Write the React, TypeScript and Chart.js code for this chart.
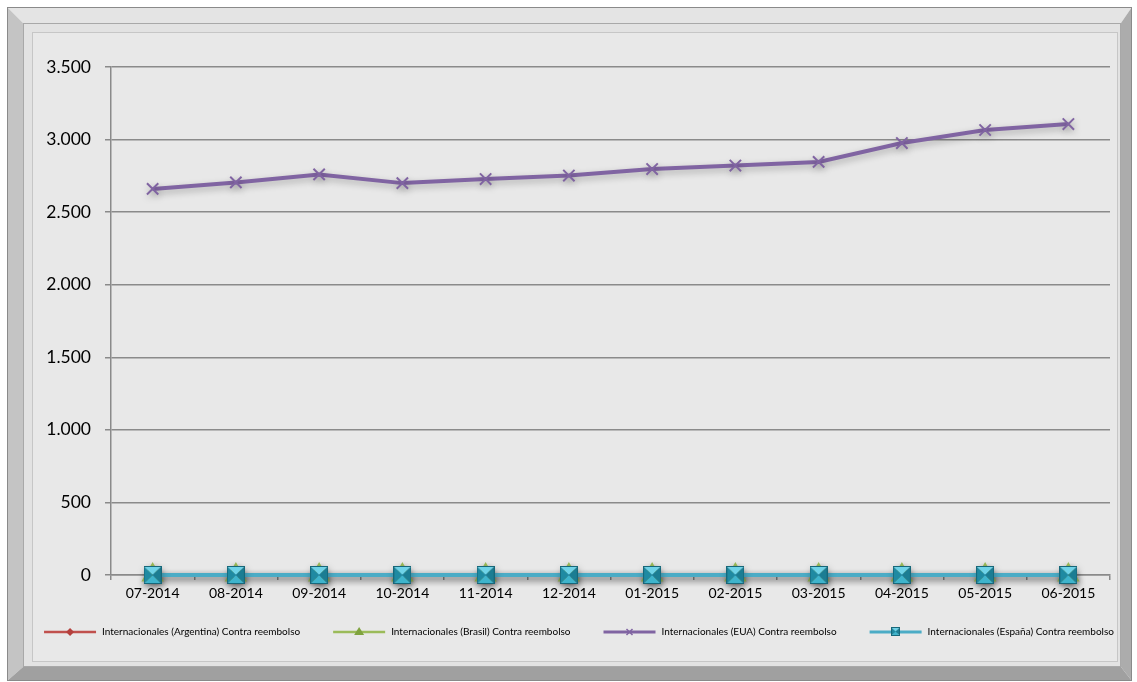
import React, { useEffect, useRef } from "react";
import { Chart, registerables } from "chart.js";

Chart.register(...registerables);

const months = [
  "07-2014", "08-2014", "09-2014", "10-2014", "11-2014", "12-2014",
  "01-2015", "02-2015", "03-2015", "04-2015", "05-2015", "06-2015",
];
const argentina = [0, 0, 0, 0, 0, 0, 0, 0, 0, 0, 0, 0];
const brasil = [0, 0, 0, 0, 0, 0, 0, 0, 0, 0, 0, 0];
const eua = [2660, 2705, 2760, 2700, 2728, 2752, 2797, 2821, 2846, 2976, 3066, 3107];
const espana = [0, 0, 0, 0, 0, 0, 0, 0, 0, 0, 0, 0];
const seriesNames = [
  "Internacionales (Argentina) Contra reembolso",
  "Internacionales (Brasil) Contra reembolso",
  "Internacionales (EUA) Contra reembolso",
  "Internacionales (España) Contra reembolso",
];
const yTicks = [0, 500, 1000, 1500, 2000, 2500, 3000, 3500];

const W = 1137;
const H = 682;

function fmt(v: number) {
  return String(v).replace(/\B(?=(\d{3})+(?!\d))/g, ".");
}

function makePyramid(size: number) {
  const c = document.createElement("canvas");
  c.width = size;
  c.height = size;
  const g = c.getContext("2d")!;
  const m = size / 2;
  const tri = (pts: number[][], col: string) => {
    g.beginPath();
    g.moveTo(pts[0][0], pts[0][1]);
    g.lineTo(pts[1][0], pts[1][1]);
    g.lineTo(pts[2][0], pts[2][1]);
    g.closePath();
    g.fillStyle = col;
    g.fill();
  };
  tri([[0, 0], [size, 0], [m, m]], "#6fd3e8");
  tri([[0, size], [size, size], [m, m]], "#3fb4cc");
  tri([[0, 0], [0, size], [m, m]], "#1f8aa2");
  tri([[size, 0], [size, size], [m, m]], "#1b7d93");
  g.strokeStyle = "#17687a";
  g.lineWidth = 1;
  g.strokeRect(0.5, 0.5, size - 1, size - 1);
  return c;
}

export default function App() {
  const ref = useRef<HTMLCanvasElement>(null);

  useEffect(() => {
    const canvas = ref.current!;
    const pyr = makePyramid(18);
    const pyrSmall = makePyramid(9);

    const framePlugin = {
      id: "frame",
      beforeDraw(chart: any) {
        const ctx = chart.ctx;
        ctx.save();
        ctx.fillStyle = "#ffffff";
        ctx.fillRect(0, 0, W, H);
        const ox0 = 7, oy0 = 7, ox1 = 1132, oy1 = 681;
        const ix0 = 23, iy0 = 23, ix1 = 1121, iy1 = 667;
        const quad = (p: number[][], col: string) => {
          ctx.beginPath();
          ctx.moveTo(p[0][0], p[0][1]);
          for (let i = 1; i < p.length; i++) ctx.lineTo(p[i][0], p[i][1]);
          ctx.closePath();
          ctx.fillStyle = col;
          ctx.fill();
        };
        quad([[ox0, oy0], [ox1, oy0], [ix1, iy0], [ix0, iy0]], "#e4e4e4");
        quad([[ox0, oy0], [ix0, iy0], [ix0, iy1], [ox0, oy1]], "#c4c4c4");
        quad([[ox1, oy0], [ox1, oy1], [ix1, iy1], [ix1, iy0]], "#acacac");
        quad([[ox0, oy1], [ix0, iy1], [ix1, iy1], [ox1, oy1]], "#a0a0a0");
        ctx.strokeStyle = "#8a8a8a";
        ctx.lineWidth = 1;
        ctx.strokeRect(ox0 + 0.5, oy0 + 0.5, ox1 - ox0 - 1, oy1 - oy0 - 1);
        ctx.fillStyle = "#e2e2e2";
        ctx.fillRect(ix0, iy0, ix1 - ix0, iy1 - iy0);
        ctx.strokeStyle = "#a8a8a8";
        ctx.strokeRect(ix0 + 0.5, iy0 + 0.5, ix1 - ix0 - 1, iy1 - iy0 - 1);
        ctx.fillStyle = "#e8e8e8";
        ctx.fillRect(32, 32, 1118 - 32, 662 - 32);
        ctx.strokeStyle = "#c6c6c6";
        ctx.strokeRect(32.5, 32.5, 1118 - 33, 662 - 33);
        ctx.restore();
      },
      beforeDatasetsDraw(chart: any) {
        const ctx = chart.ctx;
        ctx.save();
        ctx.shadowColor = "rgba(0,0,0,0.28)";
        ctx.shadowBlur = 7;
        ctx.shadowOffsetX = 1;
        ctx.shadowOffsetY = 3;
      },
      afterDatasetsDraw(chart: any) {
        chart.ctx.restore();
      },
      afterDraw(chart: any) {
        const ctx = chart.ctx;
        ctx.save();
        ctx.font = "10px Lato";
        ctx.textBaseline = "middle";
        ctx.textAlign = "left";
        const lineLen = 52, gapText = 6, gapItem = 33;
        const cols = ["#c0504d", "#9bbb59", "#8064a2", "#4bacc6"];
        const widths = seriesNames.map((n) => ctx.measureText(n).width);
        const total = widths.reduce((a, b) => a + b + lineLen + gapText, 0) + gapItem * 3;
        let x = 579 - total / 2;
        const y = 632;
        seriesNames.forEach((name, i) => {
          ctx.strokeStyle = cols[i];
          ctx.lineWidth = i === 0 || i === 1 ? 2.5 : 3;
          ctx.beginPath();
          ctx.moveTo(x, y);
          ctx.lineTo(x + lineLen, y);
          ctx.stroke();
          const cx = x + lineLen / 2;
          if (i === 0) {
            ctx.fillStyle = "#b5403d";
            ctx.beginPath();
            ctx.moveTo(cx, y - 4);
            ctx.lineTo(cx + 4, y);
            ctx.lineTo(cx, y + 4);
            ctx.lineTo(cx - 4, y);
            ctx.closePath();
            ctx.fill();
          } else if (i === 1) {
            ctx.fillStyle = "#7fa33e";
            ctx.beginPath();
            ctx.moveTo(cx, y - 5);
            ctx.lineTo(cx + 5, y + 3);
            ctx.lineTo(cx - 5, y + 3);
            ctx.closePath();
            ctx.fill();
          } else if (i === 2) {
            ctx.lineWidth = 1.5;
            ctx.beginPath();
            ctx.moveTo(cx - 3, y - 3);
            ctx.lineTo(cx + 3, y + 3);
            ctx.moveTo(cx + 3, y - 3);
            ctx.lineTo(cx - 3, y + 3);
            ctx.stroke();
          } else {
            ctx.drawImage(pyrSmall, cx - 4.5, y - 5);
          }
          ctx.fillStyle = "#000000";
          ctx.fillText(name, x + lineLen + gapText, y);
          x += lineLen + gapText + widths[i] + gapItem;
        });
        ctx.restore();
      },
    };

    const chart = new Chart(canvas, {
      type: "line",
      data: {
        labels: months,
        datasets: [
          {
            label: seriesNames[0],
            data: argentina,
            borderColor: "#c0504d",
            backgroundColor: "#c0504d",
            borderWidth: 3,
            pointStyle: "rectRot",
            pointRadius: 6,
            order: 3,
            clip: false,
          },
          {
            label: seriesNames[1],
            data: brasil,
            borderColor: "#9bbb59",
            backgroundColor: "#9bbb59",
            borderWidth: 3,
            pointStyle: "triangle",
            pointRadius: 10,
            order: 2,
            clip: false,
          },
          {
            label: seriesNames[2],
            data: eua,
            borderColor: "#8064a2",
            backgroundColor: "#8064a2",
            borderWidth: 4,
            pointStyle: "crossRot",
            pointRadius: 8,
            pointBorderWidth: 2,
            order: 1,
            clip: false,
          },
          {
            label: seriesNames[3],
            data: espana,
            borderColor: "#4bacc6",
            backgroundColor: "#4bacc6",
            borderWidth: 4,
            pointStyle: pyr as any,
            pointRadius: 9,
            order: 0,
            clip: false,
          },
        ] as any,
      },
      options: {
        responsive: false,
        animation: false,
        events: [],
        layout: { padding: { left: 30, right: 27, top: 67, bottom: 67 } },
        plugins: {
          legend: { display: false },
          tooltip: { enabled: false },
        },
        scales: {
          x: {
            type: "category",
            offset: true,
            afterFit: (s: any) => {
              s.height = 40;
            },
            grid: {
              offset: true,
              drawOnChartArea: false,
              drawTicks: true,
              tickLength: 5,
              color: "#8a8a8a",
              lineWidth: 1.5,
            },
            border: { display: true, color: "#8a8a8a", width: 1.5 },
            ticks: {
              color: "#000000",
              font: { family: "Lato", size: 14 },
              padding: 5,
              maxRotation: 0,
              autoSkip: false,
            },
          },
          y: {
            min: 0,
            max: 3500,
            afterFit: (s: any) => {
              s.width = 81;
            },
            afterBuildTicks: (s: any) => {
              s.ticks = yTicks.map((v) => ({ value: v }));
            },
            grid: {
              color: "#8a8a8a",
              lineWidth: 1.5,
              drawTicks: true,
              tickLength: 6,
            },
            border: { display: true, color: "#8a8a8a", width: 1.5 },
            ticks: {
              color: "#000000",
              font: { family: "Lato", size: 17.5 },
              padding: 14,
              callback: (v: any) => fmt(Number(v)),
            },
          },
        },
      },
      plugins: [framePlugin],
    });

    return () => chart.destroy();
  }, []);

  return (
    <div style={{ position: "absolute", left: 0, top: 0, width: W, height: H }}>
      <canvas ref={ref} width={W} height={H} style={{ display: "block" }} />
    </div>
  );
}
